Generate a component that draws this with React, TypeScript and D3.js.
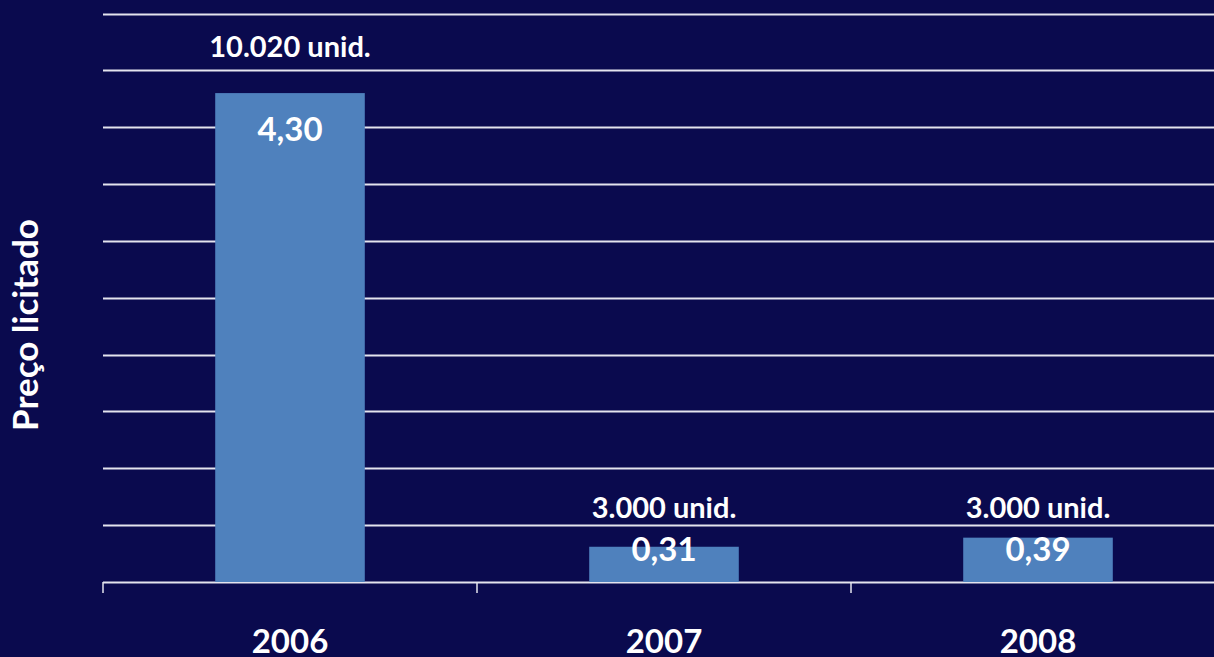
import { useRef, useEffect } from "react";
import * as d3 from "d3";

const years = ["2006", "2007", "2008"];
const prices = [4.3, 0.31, 0.39];
const priceLabels = ["4,30", "0,31", "0,39"];
const unitLabels = ["10.020 unid.", "3.000 unid.", "3.000 unid."];
const gridTicks = d3.range(0, 5.01, 0.5);

const W = 1214;
const H = 657;
const FONT = "Lato, 'Open Sans', sans-serif";

export default function App() {
  const svgRef = useRef<SVGSVGElement>(null);

  useEffect(() => {
    if (!svgRef.current) return;
    const svg = d3.select(svgRef.current);
    svg.selectAll("*").remove();

    const left = 103;
    const axisY = 582;
    const band = 374;

    svg.append("rect").attr("width", W).attr("height", H).attr("fill", "#0a0a4e");

    const x = d3
      .scaleBand()
      .domain(years)
      .range([left, left + band * years.length])
      .paddingInner(0.6)
      .paddingOuter(0.3);

    const y = d3.scaleLinear().domain([0, 5]).range([axisY, 13.5]);

    // gridlines
    svg
      .append("g")
      .selectAll("line")
      .data(gridTicks)
      .join("line")
      .attr("x1", left)
      .attr("x2", W)
      .attr("y1", (d) => Math.round(y(d)) + 0.5)
      .attr("y2", (d) => Math.round(y(d)) + 0.5)
      .attr("stroke", "#e4e4ee")
      .attr("stroke-width", 2);

    // category tick marks
    svg
      .append("g")
      .selectAll("line")
      .data(d3.range(years.length + 1))
      .join("line")
      .attr("x1", (i) => left + i * band)
      .attr("x2", (i) => left + i * band)
      .attr("y1", axisY)
      .attr("y2", axisY + 11)
      .attr("stroke", "#e4e4ee")
      .attr("stroke-width", 1.5);

    const g = svg.append("g");
    years.forEach((yr, i) => {
      const bx = x(yr)!;
      const bw = x.bandwidth();
      const top = y(prices[i]);
      g.append("rect")
        .attr("x", bx)
        .attr("y", top)
        .attr("width", bw)
        .attr("height", axisY - top)
        .attr("fill", "#4f81bd");

      const pushed = top + 48 > axisY - 21;
      const valueY = pushed ? axisY - 21 : top + 48;
      const unitY = pushed ? valueY - 43 : top - 36;
      const cx = bx + bw / 2;

      g.append("text")
        .attr("x", cx)
        .attr("y", valueY)
        .attr("text-anchor", "middle")
        .attr("fill", "#ffffff")
        .attr("font-family", FONT)
        .attr("font-weight", "bold")
        .attr("font-size", 33)
        .text(priceLabels[i]);

      g.append("text")
        .attr("x", cx)
        .attr("y", unitY)
        .attr("text-anchor", "middle")
        .attr("fill", "#ffffff")
        .attr("font-family", FONT)
        .attr("font-weight", "bold")
        .attr("font-size", 29)
        .text(unitLabels[i]);

      g.append("text")
        .attr("x", cx)
        .attr("y", 653)
        .attr("text-anchor", "middle")
        .attr("fill", "#ffffff")
        .attr("font-family", FONT)
        .attr("font-weight", "bold")
        .attr("font-size", 33)
        .text(yr);
    });

    svg
      .append("text")
      .attr("transform", `translate(38,${325}) rotate(-90)`)
      .attr("text-anchor", "middle")
      .attr("fill", "#ffffff")
      .attr("font-family", FONT)
      .attr("font-weight", "bold")
      .attr("font-size", 35)
      .text("Preço licitado");
  }, []);

  return (
    <svg
      ref={svgRef}
      width={W}
      height={H}
      style={{ position: "fixed", top: 0, left: 0, display: "block" }}
    />
  );
}
